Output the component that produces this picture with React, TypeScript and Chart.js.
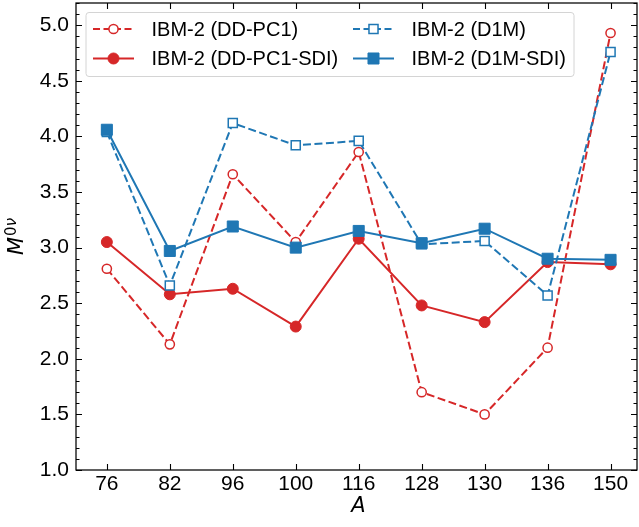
import React, { useEffect, useRef } from 'react';
import { Chart, registerables } from 'chart.js';

Chart.register(...registerables);

// ---- data ----
const categories = ['76', '82', '96', '100', '116', '128', '130', '136', '150'];
const ddpc1 = [2.81, 2.13, 3.66, 3.05, 3.86, 1.70, 1.50, 2.10, 4.93];
const ddpc1Sdi = [3.05, 2.58, 2.63, 2.29, 3.08, 2.48, 2.33, 2.87, 2.85];
const d1m = [4.04, 2.66, 4.12, 3.92, 3.96, 3.03, 3.06, 2.57, 4.76];
const d1mSdi = [4.06, 2.97, 3.19, 3.00, 3.15, 3.04, 3.17, 2.90, 2.89];
const yTicks = [1.0, 1.5, 2.0, 2.5, 3.0, 3.5, 4.0, 4.5, 5.0];
const legendLabels = ['IBM-2 (DD-PC1)', 'IBM-2 (DD-PC1-SDI)', 'IBM-2 (D1M)', 'IBM-2 (D1M-SDI)'];

const Y_MIN = 1.0;
const Y_MAX = 5.2;
const Y_MINOR = 0.1;
const X_MIN = -0.49;
const X_MAX = 8.42;

const RED = '#d62728';
const BLUE = '#1f77b4';
const SANS = '"Liberation Sans", Arial, sans-serif';
const MATH = '"DejaVu Sans", sans-serif';
const DASH = [8, 3.5];

type Style = { color: string; dashed: boolean; shape: 'circle' | 'rect'; filled: boolean };
const styles: Style[] = [
  { color: RED, dashed: true, shape: 'circle', filled: false },
  { color: RED, dashed: false, shape: 'circle', filled: true },
  { color: BLUE, dashed: true, shape: 'rect', filled: false },
  { color: BLUE, dashed: false, shape: 'rect', filled: true },
];
const series = [ddpc1, ddpc1Sdi, d1m, d1mSdi];

function markerRadius(s: Style) {
  if (s.shape === 'circle') return s.filled ? 5.5 : 4.6;
  return s.filled ? 7.8 : 6.4;
}

function drawMarker(ctx: CanvasRenderingContext2D, s: Style, x: number, y: number) {
  ctx.save();
  ctx.setLineDash([]);
  ctx.lineWidth = s.filled ? 1 : 1.5;
  ctx.strokeStyle = s.color;
  ctx.fillStyle = s.filled ? s.color : '#ffffff';
  ctx.beginPath();
  const r = markerRadius(s);
  if (s.shape === 'circle') {
    ctx.arc(x, y, r, 0, Math.PI * 2);
  } else {
    const h = Math.SQRT1_2 * r;
    ctx.rect(x - h, y - h, 2 * h, 2 * h);
  }
  ctx.fill();
  ctx.stroke();
  ctx.restore();
}

const decorPlugin = {
  id: 'decor',
  beforeDatasetsDraw(chart: any) {
    const { ctx, chartArea: a, scales } = chart;
    const x = scales.x;
    const y = scales.y;
    ctx.save();
    ctx.strokeStyle = '#000';
    ctx.lineWidth = 1.1;
    const major = 6;
    const minor = 3.5;
    ctx.beginPath();
    yTicks.forEach((v) => {
      const py = Math.round(y.getPixelForValue(v)) + 0.5;
      ctx.moveTo(a.left, py);
      ctx.lineTo(a.left + major, py);
      ctx.moveTo(a.right, py);
      ctx.lineTo(a.right - major, py);
    });
    const nMinor = Math.round((Y_MAX - Y_MIN) / Y_MINOR);
    for (let k = 0; k <= nMinor; k++) {
      const v = Y_MIN + k * Y_MINOR;
      if (yTicks.some((t) => Math.abs(t - v) < 1e-6)) continue;
      const py = Math.round(y.getPixelForValue(v)) + 0.5;
      ctx.moveTo(a.left, py);
      ctx.lineTo(a.left + minor, py);
      ctx.moveTo(a.right, py);
      ctx.lineTo(a.right - minor, py);
    }
    categories.forEach((_, i) => {
      const px = Math.round(x.getPixelForValue(i)) + 0.5;
      ctx.moveTo(px, a.bottom);
      ctx.lineTo(px, a.bottom - major);
      ctx.moveTo(px, a.top);
      ctx.lineTo(px, a.top + major);
    });
    ctx.stroke();
    ctx.restore();
  },
  afterDatasetsDraw(chart: any) {
    const { ctx, chartArea: a } = chart;
    ctx.save();
    // frame
    ctx.strokeStyle = '#000';
    ctx.lineWidth = 1.25;
    ctx.strokeRect(a.left, a.top, a.right - a.left, a.bottom - a.top);

    // legend
    const bx = a.left + 10;
    const by = a.top + 9.5;
    const bw = 488;
    const bh = 64;
    ctx.beginPath();
    const r = 3;
    ctx.moveTo(bx + r, by);
    ctx.lineTo(bx + bw - r, by);
    ctx.quadraticCurveTo(bx + bw, by, bx + bw, by + r);
    ctx.lineTo(bx + bw, by + bh - r);
    ctx.quadraticCurveTo(bx + bw, by + bh, bx + bw - r, by + bh);
    ctx.lineTo(bx + r, by + bh);
    ctx.quadraticCurveTo(bx, by + bh, bx, by + bh - r);
    ctx.lineTo(bx, by + r);
    ctx.quadraticCurveTo(bx, by, bx + r, by);
    ctx.fillStyle = 'rgba(255,255,255,0.8)';
    ctx.fill();
    ctx.strokeStyle = '#d4d4d4';
    ctx.lineWidth = 1;
    ctx.stroke();

    const rows = [by + 16.5, by + 46];
    const cols = [bx + 7, bx + 267];
    legendLabels.forEach((label, i) => {
      const s = styles[i];
      const col = cols[Math.floor(i / 2)];
      const ry = rows[i % 2];
      ctx.save();
      ctx.strokeStyle = s.color;
      ctx.lineWidth = 2;
      ctx.setLineDash(s.dashed ? [7, 3.5] : []);
      ctx.beginPath();
      ctx.moveTo(col, ry);
      ctx.lineTo(col + 41, ry);
      ctx.stroke();
      ctx.restore();
      drawMarker(ctx, s, col + 20.5, ry);
      ctx.fillStyle = '#000';
      ctx.font = `20px ${SANS}`;
      ctx.textAlign = 'left';
      ctx.textBaseline = 'middle';
      ctx.fillText(label, col + 58.5, ry + 1);
    });

    // y title: M^{0ν}
    ctx.save();
    ctx.fillStyle = '#000';
    const cy = (a.top + a.bottom) / 2;
    ctx.font = `italic 21px ${MATH}`;
    const wM = ctx.measureText('M').width;
    ctx.font = `15px ${MATH}`;
    const w0 = ctx.measureText('0').width;
    ctx.font = `italic 15px ${MATH}`;
    const wNu = ctx.measureText('ν').width;
    const total = wM + 1 + w0 + wNu;
    ctx.translate(23, cy + total / 2);
    ctx.rotate(-Math.PI / 2);
    ctx.textAlign = 'left';
    ctx.textBaseline = 'alphabetic';
    ctx.font = `italic 21px ${MATH}`;
    ctx.fillText('M', 0, 0);
    ctx.font = `15px ${MATH}`;
    ctx.fillText('0', wM + 1, -7);
    ctx.font = `italic 15px ${MATH}`;
    ctx.fillText('ν', wM + 1 + w0, -7);
    ctx.restore();

    // x title
    ctx.fillStyle = '#000';
    ctx.font = `italic 21px ${MATH}`;
    ctx.textAlign = 'center';
    ctx.textBaseline = 'middle';
    ctx.fillText('A', (a.left + a.right) / 2 + 2, 507);
    ctx.restore();
  },
};

export default function App() {
  const ref = useRef<HTMLCanvasElement | null>(null);

  useEffect(() => {
    const canvas = ref.current;
    if (!canvas) return;
    const datasets = series.map((vals, i) => {
      const s = styles[i];
      return {
        label: legendLabels[i],
        data: vals.map((v, k) => ({ x: k, y: v })),
        borderColor: s.color,
        backgroundColor: s.color,
        borderWidth: 2,
        borderDash: s.dashed ? DASH : [],
        pointStyle: s.shape,
        pointRadius: markerRadius(s),
        pointHoverRadius: markerRadius(s),
        pointBackgroundColor: s.filled ? s.color : '#ffffff',
        pointBorderColor: s.color,
        pointBorderWidth: s.filled ? 1 : 1.5,
        tension: 0,
        fill: false,
        clip: false as any,
        order: 4 - i,
      };
    });

    const chart = new Chart(canvas, {
      type: 'line',
      data: { datasets },
      options: {
        animation: false,
        responsive: false,
        devicePixelRatio: 1,
        events: [],
        layout: { autoPadding: false, padding: { top: 3, right: 2, left: 0, bottom: 0 } },
        plugins: {
          legend: { display: false },
          tooltip: { enabled: false },
          title: { display: false },
        },
        scales: {
          x: {
            type: 'linear',
            min: X_MIN,
            max: X_MAX,
            grid: { display: false, drawTicks: false },
            border: { display: false },
            afterBuildTicks: (axis: any) => {
              axis.ticks = categories.map((_, i) => ({ value: i }));
            },
            afterFit: (axis: any) => {
              axis.height = 57;
              axis.paddingLeft = 0;
              axis.paddingRight = 0;
              axis.paddingTop = 0;
              axis.paddingBottom = 0;
            },
            ticks: {
              autoSkip: false,
              maxRotation: 0,
              minRotation: 0,
              padding: 2,
              color: '#000',
              font: { family: SANS, size: 21 },
              callback: (v: any) => categories[Math.round(Number(v))] ?? '',
            },
          },
          y: {
            type: 'linear',
            min: Y_MIN,
            max: Y_MAX,
            grid: { display: false, drawTicks: false },
            border: { display: false },
            afterBuildTicks: (axis: any) => {
              axis.ticks = yTicks.map((v) => ({ value: v }));
            },
            afterFit: (axis: any) => {
              axis.width = 76;
              axis.paddingLeft = 0;
              axis.paddingRight = 0;
              axis.paddingTop = 0;
              axis.paddingBottom = 0;
            },
            ticks: {
              padding: 7,
              color: '#000',
              font: { family: SANS, size: 21 },
              callback: (v: any) => Number(v).toFixed(1),
            },
          },
        },
      },
      plugins: [decorPlugin],
    });
    return () => chart.destroy();
  }, []);

  return (
    <div style={{ position: 'absolute', left: 0, top: 0, width: 639, height: 527, background: '#fff' }}>
      <canvas ref={ref} width={639} height={527} style={{ width: 639, height: 527, display: 'block' }} />
    </div>
  );
}
